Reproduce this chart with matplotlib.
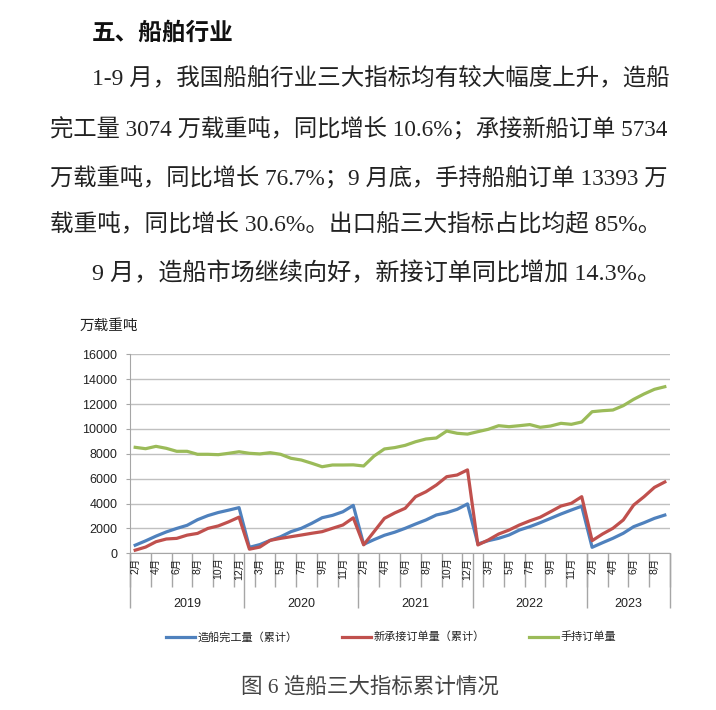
import matplotlib
matplotlib.use('Agg')
import matplotlib.pyplot as plt
import numpy as np
from matplotlib.ticker import FixedLocator, FixedFormatter, NullFormatter, MultipleLocator

plt.rcParams['font.family'] = ['Liberation Sans', 'Noto Sans CJK SC']
serif_cjk = ['Liberation Serif', 'Noto Sans CJK SC']

# months shown per year (Jan is merged into Feb)
years = ['2019', '2020', '2021', '2022', '2023']
year_months = [list(range(2, 13)), list(range(2, 13)), list(range(2, 13)),
               list(range(2, 13)), list(range(2, 10))]

# 万载重吨, cumulative
completed = [650, 1000, 1380, 1720, 2000, 2250, 2700, 3030, 3280, 3470, 3672,
             480, 700, 1040, 1330, 1740, 2010, 2410, 2860, 3050, 3340, 3853,
             720, 1100, 1450, 1700, 2010, 2355, 2680, 3080, 3265, 3535, 3970,
             750, 1015, 1205, 1470, 1870, 2140, 2460, 2810, 3160, 3480, 3786,
             480, 850, 1205, 1610, 2140, 2460, 2810, 3074]
new_orders = [250, 500, 930, 1150, 1200, 1460, 1600, 2000, 2200, 2530, 2907,
              330, 500, 1040, 1200, 1335, 1470, 1610, 1740, 2010, 2275, 2853,
              680, 1740, 2810, 3250, 3620, 4550, 4950, 5490, 6160, 6295, 6707,
              670, 1070, 1550, 1870, 2275, 2610, 2900, 3345, 3800, 4020, 4552,
              1015, 1550, 2010, 2680, 3880, 4550, 5300, 5734]
holding = [8520, 8410, 8600, 8440, 8200, 8200, 7960, 7960, 7930, 8040, 8166,
           8040, 7990, 8090, 7960, 7640, 7500, 7240, 6960, 7100, 7100, 7111,
           7020, 7820, 8390, 8500, 8680, 8970, 9190, 9270, 9830, 9650, 9584,
           9780, 9970, 10260, 10180, 10260, 10350, 10130, 10235, 10450, 10370, 10557,
           11385, 11465, 11520, 11870, 12380, 12810, 13185, 13393]

series_names = ['造船完工量（累计）', '新承接订单量（累计）', '手持订单量']
colors = ['#4F81BD', '#C0504D', '#9BBB59']

heading = '五、船舶行业'
body_lines = [
    '1-9 月，我国船舶行业三大指标均有较大幅度上升，造船',
    '完工量 3074 万载重吨，同比增长 10.6%；承接新船订单 5734',
    '万载重吨，同比增长 76.7%；9 月底，手持船舶订单 13393 万',
    '载重吨，同比增长 30.6%。出口船三大指标占比均超 85%。',
    '9 月，造船市场继续向好，新接订单同比增加 14.3%。',
]
caption = '图 6 造船三大指标累计情况'

months = [m for ms in year_months for m in ms]
n = len(months)
x = np.arange(n) + 0.5

W, H = 716, 710
fig = plt.figure(figsize=(W / 100, H / 100), dpi=100)

# text above the chart
fig.text(92 / W, 1 - 33 / H, heading, fontsize=17, fontweight='bold',
         family='Noto Sans CJK SC', va='center', color='#111111')
line_y = [78, 130, 179, 225, 273]
line_x0 = [92, 50, 50, 50, 92]
line_x1 = [668, 668, 668, 660, 660]
body = []
for txt, lx, ly in zip(body_lines, line_x0, line_y):
    body.append(fig.text(lx / W, 1 - ly / H, txt, fontsize=16.5, family=serif_cjk,
                         va='center', color='#222222'))

ax = fig.add_axes([130 / W, 1 - 553.3 / H, 540 / W, 199 / H])
for vals, name, c in zip([completed, new_orders, holding], series_names, colors):
    ax.plot(x, vals, color=c, lw=2.3, label=name, solid_joinstyle='round')

ax.set_xlim(0, n)
ax.set_ylim(0, 16000)
ax.yaxis.set_major_locator(MultipleLocator(2000))
ax.grid(axis='y', color='#c0c0c0', lw=1)
ax.set_axisbelow(True)
for s in ['top', 'right']:
    ax.spines[s].set_visible(False)
for s in ['left', 'bottom']:
    ax.spines[s].set_color('#a6a6a6')
ax.tick_params(axis='y', length=3, color='#a6a6a6', labelsize=9, pad=6,
               labelcolor='#222222')

# month separators every two categories, labels on every other month
ax.xaxis.set_major_locator(FixedLocator(np.arange(0, n + 1, 2)))
ax.xaxis.set_major_formatter(NullFormatter())
ax.xaxis.set_minor_locator(FixedLocator(x[::2]))
ax.xaxis.set_minor_formatter(FixedFormatter([f'{m}月' for m in months[::2]]))
ax.tick_params(axis='x', which='major', length=24.5, color='#a6a6a6', width=1)
ax.tick_params(axis='x', which='minor', length=0, labelsize=7.5, pad=3,
               labelrotation=90, labelcolor='#222222')

# year level of the category axis
bounds = np.cumsum([0] + [len(ms) for ms in year_months])
centers = (bounds[:-1] + bounds[1:]) / 2
sec = ax.secondary_xaxis('bottom')
sec.spines['bottom'].set_visible(False)
sec.xaxis.set_major_locator(FixedLocator(bounds))
sec.xaxis.set_major_formatter(NullFormatter())
sec.xaxis.set_minor_locator(FixedLocator(centers))
sec.xaxis.set_minor_formatter(FixedFormatter(years))
sec.tick_params(axis='x', which='major', length=39.6, color='#a6a6a6', width=1)
sec.tick_params(axis='x', which='minor', length=0, labelsize=9, pad=32,
                labelcolor='#222222')

fig.text(80 / W, 1 - 326 / H, '万载重吨', fontsize=10.5, va='center',
         color='#222222')

fig.legend(loc='center', bbox_to_anchor=(391 / W, 1 - 637 / H), ncol=3,
           frameon=False, fontsize=8, handlelength=2.6, handletextpad=0.2,
           columnspacing=4.0, labelcolor='#222222')

fig.text(370 / W, 1 - 687 / H, caption, fontsize=15.5, family=serif_cjk,
         ha='center', va='center', color='#444444')

# stretch each body line to the width it has in the page
renderer = fig.canvas.get_renderer()
for t, a, b in zip(body, line_x0, line_x1):
    w = t.get_window_extent(renderer).width
    t.set_fontsize(t.get_fontsize() * (b - a) / w)

fig.savefig('out.png', dpi=100)
